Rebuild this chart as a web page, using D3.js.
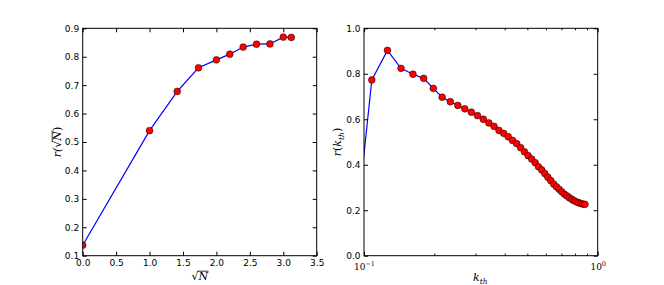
<!DOCTYPE html>
<html>
<head>
<meta charset="utf-8">
<script src="https://cdn.jsdelivr.net/npm/d3@7"></script>
<style>
  html, body { margin: 0; padding: 0; background: #fff; }
  svg { display: block; }
  .tick text { font-family: "DejaVu Sans", sans-serif; font-size: 9px; fill: #000; }
  .math { font-family: "DejaVu Serif", serif; font-style: italic; font-size: 11px; fill: #000; }
</style>
</head>
<body>
<svg id="chart" width="664" height="285"></svg>
<script>
// ---- data ----
const sqrtN = [0, 1, 1.414, 1.732, 2, 2.2, 2.4, 2.6, 2.8, 3.0, 3.12];
const rSqrtN = [0.137, 0.540, 0.678, 0.761, 0.789, 0.809, 0.834, 0.844, 0.845, 0.869, 0.868];

const kth = [0.09, 0.108, 0.126, 0.144, 0.162, 0.18, 0.198, 0.216, 0.234, 0.252,
             0.27, 0.288, 0.306, 0.324, 0.342, 0.36, 0.378, 0.396, 0.414, 0.432,
             0.45, 0.468, 0.486, 0.504, 0.522, 0.54, 0.558, 0.576, 0.594, 0.612,
             0.63, 0.648, 0.666, 0.684, 0.702, 0.72, 0.738, 0.756, 0.774, 0.792,
             0.81, 0.828, 0.846, 0.864, 0.882];
const rKth = [0.0, 0.773, 0.903, 0.824, 0.798, 0.780, 0.736, 0.697, 0.677, 0.661,
              0.646, 0.631, 0.616, 0.600, 0.584, 0.569, 0.551, 0.538, 0.523, 0.507,
              0.493, 0.475, 0.457, 0.440, 0.425, 0.409, 0.391, 0.377, 0.361, 0.345,
              0.330, 0.315, 0.303, 0.292, 0.281, 0.271, 0.263, 0.255, 0.248, 0.242,
              0.237, 0.233, 0.230, 0.227, 0.226];

const leftXTicks = [0, 0.5, 1, 1.5, 2, 2.5, 3, 3.5];
const leftYTicks = [0.1, 0.2, 0.3, 0.4, 0.5, 0.6, 0.7, 0.8, 0.9];
const rightYTicks = [0.0, 0.2, 0.4, 0.6, 0.8, 1.0];
const rightXMajor = [0.1, 1];
const rightXMinor = [0.2, 0.3, 0.4, 0.5, 0.6, 0.7, 0.8, 0.9];

// ---- layout ----
const svg = d3.select("#chart");
const yTop = 28.3, yBot = 255.7;
const L = {x0: 82.7, x1: 316.7};
const R = {x0: 364, x1: 597.7};

const xL = d3.scaleLinear().domain([0, 3.5]).range([L.x0, L.x1]);
const yL = d3.scaleLinear().domain([0.1, 0.9]).range([yBot, yTop]);
const xR = d3.scaleLog().domain([0.1, 1]).range([R.x0, R.x1]);
const yR = d3.scaleLinear().domain([0, 1]).range([yBot, yTop]);

const defs = svg.append("defs");
function clip(id, x0, x1) {
  defs.append("clipPath").attr("id", id).append("rect")
    .attr("x", x0).attr("y", yTop).attr("width", x1 - x0).attr("height", yBot - yTop);
}
clip("clipL", L.x0, L.x1);
clip("clipR", R.x0, R.x1);

function drawSeries(xs, ys, xS, yS, clipId) {
  const g = svg.append("g").attr("clip-path", `url(#${clipId})`);
  const pts = xs.map((x, i) => [xS(x), yS(ys[i])]);
  g.append("path").attr("d", d3.line()(pts))
    .attr("fill", "none").attr("stroke", "#0000ff").attr("stroke-width", 1.2);
  g.selectAll("circle").data(pts).join("circle")
    .attr("cx", d => d[0]).attr("cy", d => d[1]).attr("r", 3.4)
    .attr("fill", "#ff0000").attr("stroke", "#000").attr("stroke-width", 0.5);
}

function fmt1(d) { return d3.format(".1f")(d); }

function axes(xS, yS, xTicks, yTicks, box, xFmt) {
  const g = svg.append("g");
  const b = g.append("g").attr("transform", `translate(0,${yBot})`)
    .call(d3.axisBottom(xS).tickValues(xTicks).tickSize(-4).tickPadding(3.5).tickFormat(xFmt));
  const t = g.append("g").attr("transform", `translate(0,${yTop})`)
    .call(d3.axisTop(xS).tickValues(xTicks).tickSize(-4).tickFormat(""));
  const l = g.append("g").attr("transform", `translate(${box.x0},0)`)
    .call(d3.axisLeft(yS).tickValues(yTicks).tickSize(-4).tickPadding(3.5).tickFormat(fmt1));
  const r = g.append("g").attr("transform", `translate(${box.x1},0)`)
    .call(d3.axisRight(yS).tickValues(yTicks).tickSize(-4).tickFormat(""));
  g.selectAll(".domain").remove();
  g.selectAll(".tick line").attr("stroke", "#000").attr("stroke-width", 1);
  g.append("rect").attr("x", box.x0).attr("y", yTop)
    .attr("width", box.x1 - box.x0).attr("height", yBot - yTop)
    .attr("fill", "none").attr("stroke", "#000").attr("stroke-width", 1);
  return {b, t, l, r, g};
}

drawSeries(sqrtN, rSqrtN, xL, yL, "clipL");
drawSeries(kth, rKth, xR, yR, "clipR");

axes(xL, yL, leftXTicks, leftYTicks, L, fmt1);
const ar = axes(xR, yR, rightXMajor, rightYTicks, R, () => "");

// minor ticks on log axis
ar.g.append("g").attr("transform", `translate(0,${yBot})`)
  .call(d3.axisBottom(xR).tickValues(rightXMinor).tickSize(-2).tickFormat(""))
  .call(s => s.select(".domain").remove());
ar.g.append("g").attr("transform", `translate(0,${yTop})`)
  .call(d3.axisTop(xR).tickValues(rightXMinor).tickSize(-2).tickFormat(""))
  .call(s => s.select(".domain").remove());
ar.g.selectAll(".tick line").attr("stroke", "#000");

// log tick labels 10^-1, 10^0
const expo = d => Math.round(Math.log10(d));
ar.b.selectAll(".tick").each(function(d) {
  const tx = d3.select(this).append("text")
    .attr("x", 0).attr("y", 14.3).attr("text-anchor", "middle")
    .style("font-family", "DejaVu Serif, serif").style("font-size", "9px").attr("fill", "#000");
  tx.append("tspan").text("10");
  tx.append("tspan").attr("dy", -4).style("font-size", "6.5px")
    .text(expo(d) < 0 ? "\u2212" + Math.abs(expo(d)) : String(expo(d)));
});

// ---- axis labels ----
function sqrtLabel(parent, prefix, suffix) {
  const t = parent.append("text").attr("class", "math").attr("text-anchor", "middle");
  if (prefix) t.append("tspan").text(prefix);
  t.append("tspan").style("font-style", "normal").text("\u221A");
  const n = t.append("tspan").text("N");
  if (suffix) t.append("tspan").style("font-style", "normal").text(suffix);
  return {t, n};
}

function overline(parent, tspanNode, textNode) {
  const node = tspanNode.node();
  const n = node.getNumberOfChars();
  const start = node.getStartPositionOfChar(0);
  const ext = node.getExtentOfChar(n - 1);
  const bb = textNode.node().getBBox();
  const x0 = start.x - 1.2, x1 = ext.x + ext.width + 0.5;
  const y = bb.y + 1.2;
  parent.append("line").attr("x1", x0).attr("x2", x1).attr("y1", y).attr("y2", y)
    .attr("stroke", "#000").attr("stroke-width", 0.8);
}

{
  const g = svg.append("g").attr("transform", `translate(${(L.x0 + L.x1) / 2},280)`);
  const {t, n} = sqrtLabel(g, "", "");
  overline(g, n, t);
}
{
  const g = svg.append("g").attr("transform", `translate(61,${(yTop + yBot) / 2}) rotate(-90)`);
  const {t, n} = sqrtLabel(g, "r(", ")");
  overline(g, n, t);
}
{
  const g = svg.append("g").attr("transform", `translate(${(R.x0 + R.x1) / 2 - 0.5},281)`);
  const t = g.append("text").attr("class", "math").attr("text-anchor", "middle");
  t.append("tspan").text("k");
  t.append("tspan").attr("dy", 2.5).style("font-size", "7.5px").text("th");
}
{
  const g = svg.append("g").attr("transform", `translate(341,${(yTop + yBot) / 2}) rotate(-90)`);
  const t = g.append("text").attr("class", "math").attr("text-anchor", "middle");
  t.append("tspan").text("r");
  t.append("tspan").style("font-style", "normal").text("(");
  t.append("tspan").text("k");
  t.append("tspan").attr("dy", 2.5).style("font-size", "7.5px").text("th");
  t.append("tspan").attr("dy", -2.5).style("font-style", "normal").text(")");
}
</script>
</body>
</html>
